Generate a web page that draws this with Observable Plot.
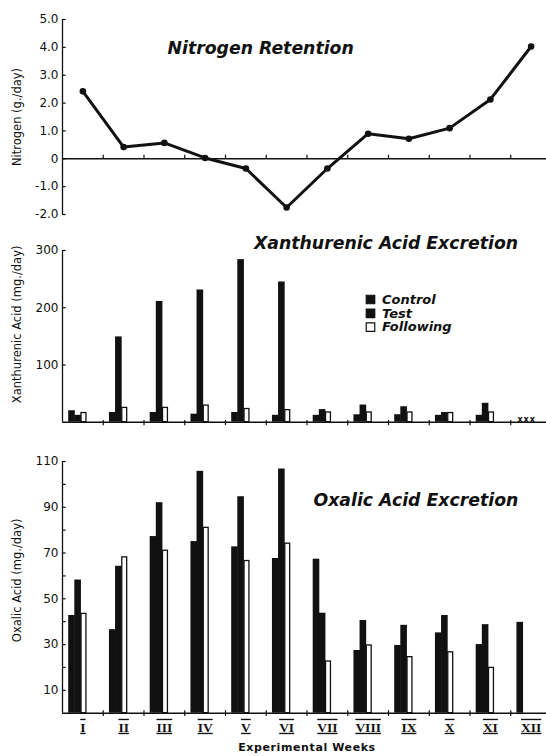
<!DOCTYPE html>
<html><head><meta charset="utf-8">
<script src="https://cdn.jsdelivr.net/npm/d3@7"></script>
<script src="https://cdn.jsdelivr.net/npm/@observablehq/plot@0.6"></script>
<style>
html,body{margin:0;padding:0;background:#fff;}
#chart{width:546px;height:756px;overflow:hidden;position:relative;}
#chart svg{display:block;}
</style></head><body><div id="chart"></div>
<script>
// ---------- data ----------
const weeks = ["I","II","III","IV","V","VI","VII","VIII","IX","X","XI","XII"];
const series = ["Control","Test","Following"];

const nitrogen = [2.42, 0.42, 0.57, 0.03, -0.35, -1.75, -0.35, 0.90, 0.72, 1.10, 2.13, 4.03];
const nitrogenTicks = [-2, -1, 0, 1, 2, 3, 4, 5];

const xanControl   = [20, 17, 17, 14, 17, 12, 12, 13, 13, 12, 12, null];
const xanTest      = [12, 149, 211, 231, 284, 245, 22, 30, 27, 17, 33, null];
const xanFollowing = [16, 25, 25, 29, 23, 21, 17, 17, 17, 16, 17, null];
const xanTicks = [100, 200, 300];

const oxControl   = [42.7, 36.5, 77.2, 75.0, 72.7, 67.6, 67.3, 27.4, 29.6, 35.1, 30.0, 39.7];
const oxTest      = [58.2, 64.2, 92.0, 105.7, 94.6, 106.7, 43.7, 40.5, 38.4, 42.7, 38.7, null];
const oxFollowing = [43.4, 68.1, 71.0, 81.0, 66.5, 74.1, 22.6, 29.6, 24.5, 26.6, 19.8, null];
const oxTicks  = [10, 20, 30, 40, 50, 60, 70, 80, 90, 100, 110];
const oxLabels = [10, 30, 50, 70, 90, 110];

const titles = ["Nitrogen Retention", "Xanthurenic Acid Excretion", "Oxalic Acid Excretion"];
const yLabels = ["Nitrogen (g./day)", "Xanthurenic Acid (mg./day)", "Oxalic Acid (mg./day)"];
const xLabel = "Experimental Weeks";

// ---------- derived tables ----------
const nitroRows = weeks.map((w, i) => ({week: i, value: nitrogen[i]}));
const bounds = weeks.slice(1).map((w, i) => i + 1);
function barRows(arrays) {
  return weeks.flatMap((w, i) => series.map((s, j) => ({week: i, slot: j, series: s, value: arrays[j][i]})));
}
const xanRows = barRows([xanControl, xanTest, xanFollowing]);
const oxRows = barRows([oxControl, oxTest, oxFollowing]);

// ---------- layout ----------
const W = 546, ML = 62, MR = -5;
const BAR0 = 0.152, BW = 0.15;
const x1 = d => d.week + BAR0 + d.slot * BW;
const x2 = d => d.week + BAR0 + (d.slot + 1) * BW;
const baseStyle = {fontFamily: "DejaVu Sans", fontSize: "12px", color: "#111", background: "#fff", overflow: "visible"};
const titleFont = {fontFamily: "DejaVu Sans", fontWeight: "bold", fontStyle: "italic", fontSize: 17.3, fill: "#111"};

function bars(rows) {
  return [
    Plot.rect(rows.filter(d => d.series !== "Following"), {x1, x2, y1: 0, y2: "value", fill: "#111", insetRight: -0.5}),
    Plot.rect(rows.filter(d => d.series === "Following"), {x1, x2, y1: 0, y2: "value", fill: "#fff", stroke: "#111", strokeWidth: 1.3, insetLeft: 0.6, insetRight: 0.6})
  ];
}
function yLabel(text, dy) {
  return Plot.text([text], {frameAnchor: "left", textAnchor: "middle", rotate: -90, dx: -45.5, dy, fontSize: 11.5, fill: "#111", lineAnchor: "middle"});
}
function title(text, dx, dy) {
  return Plot.text([text], {frameAnchor: "top-left", textAnchor: "start", lineAnchor: "middle", dx, dy, ...titleFont});
}

// ---------- panel 1: nitrogen ----------
const p1 = Plot.plot({
  width: W, height: 225, marginLeft: ML, marginRight: MR, marginTop: 19, marginBottom: 11,
  style: baseStyle,
  x: {domain: [0, 12], axis: null},
  y: {domain: [-2, 5]},
  marks: [
    Plot.ruleX([0], {stroke: "#111", strokeWidth: 1.3}),
    Plot.ruleY(nitrogenTicks, {x1: 0, x2: 0.09, stroke: "#111", strokeWidth: 1.2}),
    Plot.axisY({ticks: nitrogenTicks, tickSize: 0, tickPadding: 4, label: null,
      tickFormat: d => d === 0 ? "0" : d.toFixed(1), fontSize: 12}),
    Plot.ruleY([0], {stroke: "#111", strokeWidth: 1.5}),
    Plot.ruleX(bounds, {y1: 0, y2: 0.13, stroke: "#111", strokeWidth: 1.2}),
    Plot.line(nitroRows, {x: d => d.week + 0.5, y: "value", stroke: "#111", strokeWidth: 3, curve: "linear"}),
    Plot.dot(nitroRows, {x: d => d.week + 0.5, y: "value", r: 3.3, fill: "#111"}),
    title(titles[0], 105, 29.3),
    yLabel(yLabels[0], 0)
  ]
});

// ---------- panel 2: xanthurenic ----------
const legendMarks = series.flatMap((s, i) => [
  Plot.dot([s], {frameAnchor: "top-left", dx: 308, dy: 49 + i * 13.85, symbol: "square", r: 4.8,
    fill: s === "Following" ? "#fff" : "#111", stroke: "#111", strokeWidth: 1.2}),
  Plot.text([s], {frameAnchor: "top-left", dx: 319.5, dy: 49 + i * 13.85, textAnchor: "start", lineAnchor: "middle",
    fontFamily: "DejaVu Sans", fontWeight: "bold", fontStyle: "italic", fontSize: 13, fill: "#111"})
]);
const p2 = Plot.plot({
  width: W, height: 210, marginLeft: ML, marginRight: MR, marginTop: 25, marginBottom: 13.3,
  style: baseStyle,
  x: {domain: [0, 12], axis: null},
  y: {domain: [0, 300]},
  marks: [
    ...bars(xanRows),
    Plot.text(xanRows.filter(d => d.value == null), {x: d => (x1(d) + x2(d)) / 2, y: 0, text: d => "x", dy: -3,
      fontSize: 8, fontWeight: "bold", fill: "#111"}),
    Plot.ruleX([0], {stroke: "#111", strokeWidth: 1.3}),
    Plot.ruleY(xanTicks, {x1: 0, x2: 0.09, stroke: "#111", strokeWidth: 1.2}),
    Plot.axisY({ticks: xanTicks, tickSize: 0, tickPadding: 4, label: null, fontSize: 12}),
    Plot.ruleY([0], {stroke: "#111", strokeWidth: 1.5}),
    Plot.ruleX(bounds, {y1: -6, y2: 3, stroke: "#111", strokeWidth: 1.2}),
    title(titles[1], 191.5, -7.3),
    yLabel(yLabels[1], -12),
    ...legendMarks
  ]
});

// ---------- panel 3: oxalic ----------
const p3 = Plot.plot({
  width: W, height: 321, marginLeft: ML, marginRight: MR, marginTop: 26, marginBottom: 43.3,
  style: baseStyle,
  x: {domain: [0, 12]},
  y: {domain: [0, 110]},
  marks: [
    ...bars(oxRows),
    Plot.ruleX([0], {stroke: "#111", strokeWidth: 1.3}),
    Plot.ruleY(oxTicks, {x1: 0, x2: 0.09, stroke: "#111", strokeWidth: 1.2}),
    Plot.axisY({ticks: oxLabels, tickSize: 0, tickPadding: 4, label: null, fontSize: 12}),
    Plot.ruleY([0], {stroke: "#111", strokeWidth: 1.5}),
    Plot.ruleX(bounds, {y1: -1.4, y2: 1.1, stroke: "#111", strokeWidth: 1.2}),
    Plot.axisX({ticks: weeks.map((w, i) => i + 0.5), tickFormat: d => weeks[Math.floor(d)], tickSize: 0, tickPadding: 9,
      label: null, fontFamily: "Liberation Serif", fontWeight: "bold", fontSize: 13.5}),
    Plot.text([xLabel], {frameAnchor: "bottom", dy: 34.3, lineAnchor: "middle", fontFamily: "DejaVu Sans",
      fontWeight: "bold", fontSize: 11, fill: "#111"}),
    title(titles[2], 251, 39),
    yLabel(yLabels[2], -7)
  ]
});

const root = document.getElementById("chart");
root.append(p1, p2, p3);
d3.select(p3).selectAll("g[aria-label='x-axis tick label'] text").style("text-decoration", "overline underline");
d3.select(p3).selectAll("text").filter(function() { return this.textContent === xLabel; }).style("letter-spacing", "0.6px");
</script>
</body></html>
